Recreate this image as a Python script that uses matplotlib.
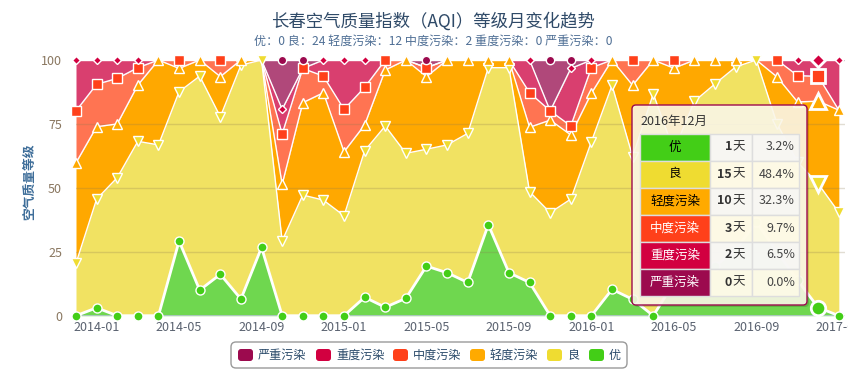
import matplotlib
matplotlib.use('Agg')
import matplotlib.pyplot as plt
import numpy as np
from matplotlib.patches import FancyBboxPatch, Rectangle
from matplotlib.transforms import Bbox

plt.rcParams['font.family'] = ['Noto Sans CJK SC', 'DejaVu Sans']

# monthly share of days (%) per AQI level
months = ['2013-12',
          '2014-01', '2014-02', '2014-03', '2014-04', '2014-05', '2014-06',
          '2014-07', '2014-08', '2014-09', '2014-10', '2014-11', '2014-12',
          '2015-01', '2015-02', '2015-03', '2015-04', '2015-05', '2015-06',
          '2015-07', '2015-08', '2015-09', '2015-10', '2015-11', '2015-12',
          '2016-01', '2016-02', '2016-03', '2016-04', '2016-05', '2016-06',
          '2016-07', '2016-08', '2016-09', '2016-10', '2016-11', '2016-12',
          '2017-01']
you = [0, 3.1, 0, 0, 0, 29.2, 10.0, 16.2, 6.5, 26.7, 0, 0, 0,
       0, 7.2, 3.3, 6.8, 19.4, 16.8, 13.0, 35.6, 16.8, 13.0, 0, 0,
       0, 10.3, 6.4, 0, 12.9, 16.7, 19.4, 25.8, 36.7, 25.0, 13.8, 3.2, 0]
liang = [20.5, 42.5, 54.0, 68.2, 66.8, 58.4, 83.7, 61.6, 91.5, 73.3, 29.3, 47.2, 45.2,
         39.1, 57.3, 70.9, 56.7, 45.7, 50.0, 58.3, 61.4, 80.2, 35.5, 40.3, 45.6,
         68.1, 79.8, 55.8, 86.8, 51.6, 67.2, 71.3, 71.5, 63.3, 50.1, 46.2, 48.4, 40.4]
qingdu = [39.3, 28.3, 21.0, 22.0, 33.2, 9.1, 6.3, 15.7, 2.0, 0, 22.1, 36.1, 42.0,
          25.0, 10.1, 21.9, 36.5, 28.4, 33.2, 28.7, 3.0, 3.0, 25.2, 36.2, 25.1,
          18.9, 9.9, 27.9, 13.2, 32.3, 16.1, 9.3, 2.7, 0, 18.3, 23.6, 32.3, 40.0]
zhongdu = [20.3, 16.6, 17.8, 6.8, 0, 3.3, 0, 6.5, 0, 0, 19.7, 13.4, 6.5,
           16.6, 14.7, 3.9, 0, 3.5, 0, 0, 0, 0, 13.5, 3.6, 3.5,
           10.0, 0, 9.9, 0, 3.2, 0, 0, 0, 0, 6.6, 10.3, 9.7, 0]
zhongdu_heavy = [19.9, 9.5, 7.2, 3.0, 0, 0, 0, 0, 0, 0, 9.6, 0, 6.3,
                 19.3, 10.7, 0, 0, 0, 0, 0, 0, 0, 12.8, 0, 22.5,
                 3.0, 0, 0, 0, 0, 0, 0, 0, 0, 0, 6.1, 6.5, 19.6]
yanzhong = [0, 0, 0, 0, 0, 0, 0, 0, 0, 0, 19.3, 3.3, 0,
            0, 0, 0, 0, 3.0, 0, 0, 0, 0, 0, 19.9, 3.3,
            0, 0, 0, 0, 0, 0, 0, 0, 0, 0, 0, 0, 0]

levels = ['优', '良', '轻度污染', '中度污染', '重度污染', '严重污染']
counts = [0, 24, 12, 2, 0, 0]

tip_month = '2016年12月'
tip_index = months.index('2016-12')
tip_days = [1, 15, 10, 3, 2, 0]

line_colors = ['#43ce17', '#efdc31', '#ffaa00', '#ff401a', '#d20040', '#9c0a4e']
area_colors = ['#6fd74f', '#f1e262', '#ffa800', '#ff7452', '#d93f6f', '#b0487a']
markers = ['o', 'v', '^', 's', 'D', 'o']
msizes = [6.5, 7.5, 7.5, 6.5, 4.5, 6]

W, H = 867, 385
fig = plt.figure(figsize=(W / 100, H / 100), dpi=100)
ax = fig.add_axes([76 / W, 1 - 315.7 / H, (845 - 76) / W, (315.7 - 60) / H])

x = np.arange(len(months))
series = np.array([you, liang, qingdu, zhongdu, zhongdu_heavy, yanzhong])
cum = np.clip(np.cumsum(series, axis=0), 0, 100)

prev = np.zeros(len(x))
for i in range(len(levels)):
    ax.fill_between(x, prev, cum[i], color=area_colors[i], lw=0, zorder=1)
    prev = cum[i]

for yv in [25, 50, 75]:
    ax.axhline(yv, color='#8a7a50', alpha=0.25, lw=1, zorder=2)
ax.axhline(100, color='#cccccc', lw=1, zorder=0.5)
ax.axhline(0, color='#b8c4d2', lw=1.2, zorder=2.5)

for i in range(len(levels)):
    ax.plot(x, cum[i], color='white', lw=2 if i == 0 else 1, zorder=3, clip_on=False)
for i in range(len(levels)):
    vals = series[i]
    mask = (vals > 0) | (i == 0)
    mask[tip_index] = False
    ax.plot(x[mask], cum[i][mask], ls='none', marker=markers[i], ms=msizes[i],
            mfc=line_colors[i], mec='white', mew=1, zorder=4 + i, clip_on=False)
    if vals[tip_index] > 0 or i == 0:
        ax.plot(x[tip_index], cum[i][tip_index], ls='none', marker=markers[i],
                ms=msizes[i] * 1.6, mfc=line_colors[i], mec='white', mew=2,
                zorder=4 + i, clip_on=False)

ax.set_xlim(0, 37.3)
ax.set_ylim(0, 100)
tick_idx = list(range(1, len(months), 4))
ax.set_xticks(tick_idx)
ax.set_xticklabels([months[i] for i in tick_idx])
ax.set_yticks([0, 25, 50, 75, 100])
ax.tick_params(axis='x', length=0, pad=4, labelsize=9, labelcolor='#5a6270')
ax.tick_params(axis='y', length=0, pad=10, labelsize=9, labelcolor='#8a7760')
for s in ax.spines.values():
    s.set_visible(False)
for t in ax.get_xticklabels():
    t.set_clip_box(Bbox([[0, 0], [848, H]]))
    t.set_clip_on(True)

# overlay in pixel coordinates for titles, legend and tooltip
ov = fig.add_axes([0, 0, 1, 1], zorder=10)
ov.set_xlim(0, W)
ov.set_ylim(H, 0)
ov.axis('off')

ov.text(433, 21, '长春空气质量指数（AQI）等级月变化趋势', ha='center', va='center',
        fontsize=12.5, color='#2f4a68')
sub = ' '.join('%s：%d' % (lv, c) for lv, c in zip(levels, counts))
ov.text(433, 41, sub, ha='center', va='center', fontsize=8.7, color='#4f6f95')
ov.text(30, 182, '空气质量等级', ha='center', va='center', rotation=90,
        fontsize=9.2, fontweight='bold', color='#3d6d99')

# legend
ov.add_patch(FancyBboxPatch((231, 342), 396, 26, boxstyle='round,pad=0,rounding_size=5',
                            fc='white', ec='#9a9a9a', lw=1))
leg_x = [238, 316, 393, 470, 547, 589]
for k, xs in enumerate(leg_x):
    i = len(levels) - 1 - k
    ov.add_patch(FancyBboxPatch((xs, 349), 15, 12, boxstyle='round,pad=0,rounding_size=3',
                                fc=line_colors[i], ec='none'))
    ov.text(xs + 20, 355.5, levels[i], ha='left', va='center', fontsize=8.7, color='#2a4a6a')

# tooltip
ov.add_patch(FancyBboxPatch((634, 107), 175, 200, boxstyle='round,pad=0,rounding_size=4',
                            fc=(0, 0, 0, 0.15), ec='none'))
ov.add_patch(FancyBboxPatch((632, 105), 175, 200, boxstyle='round,pad=0,rounding_size=4',
                            fc=(1, 0.985, 0.93, 0.88), ec='#9c0a4e', lw=1))
ov.text(640, 121, tip_month, ha='left', va='center', fontsize=9, color='#333333')
total = sum(tip_days)
top, rh = 133.5, 27
for r in range(len(levels)):
    y0 = top + rh * r
    ov.add_patch(Rectangle((640, y0), 70, rh, fc=line_colors[r], ec='#dddddd', lw=1))
    bg = (0.97, 0.97, 0.97, 0.85) if r % 2 == 0 else (1, 0.985, 0.91, 0.85)
    ov.add_patch(Rectangle((710, y0), 42, rh, fc=bg, ec='#dddddd', lw=1))
    ov.add_patch(Rectangle((752, y0), 47, rh, fc=bg, ec='#dddddd', lw=1))
    ov.text(675, y0 + rh / 2, levels[r], ha='center', va='center', fontsize=9,
            color='black' if r < 3 else 'white')
    ov.text(732, y0 + rh / 2, '天', ha='left', va='center', fontsize=9, color='#333333')
    ov.text(732, y0 + rh / 2, str(tip_days[r]), ha='right', va='center', fontsize=9,
            fontweight='bold', color='#333333')
    ov.text(795, y0 + rh / 2, '%.1f%%' % (tip_days[r] / total * 100), ha='right',
            va='center', fontsize=9, color='#444444')

fig.savefig('out.png', dpi=100)
